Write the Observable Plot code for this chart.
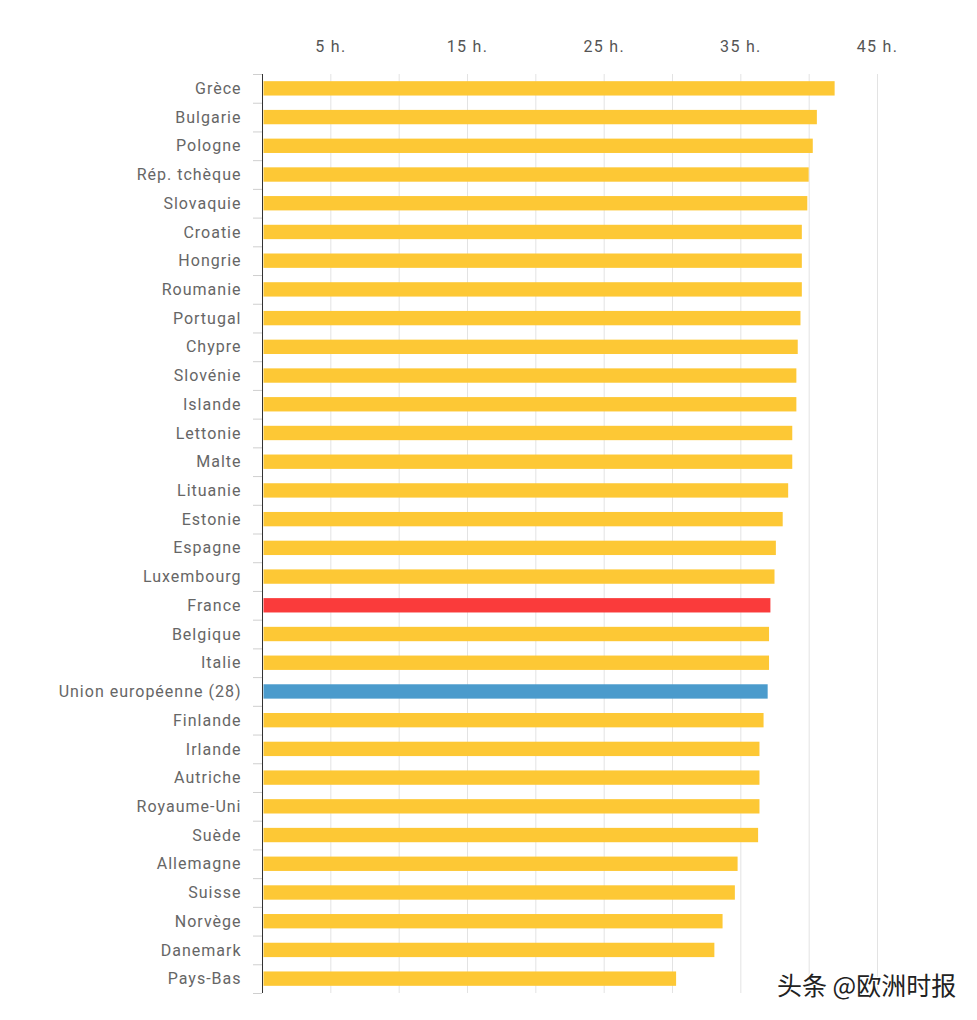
<!DOCTYPE html>
<html>
<head>
<meta charset="utf-8">
<script src="https://cdn.jsdelivr.net/npm/d3@7"></script>
<script src="https://cdn.jsdelivr.net/npm/@observablehq/plot@0.6"></script>
<style>
  html, body { margin: 0; padding: 0; background: #fff; }
  #wrap { position: relative; width: 977px; height: 1020px; }
  #chart svg g[aria-label="y-axis tick label"] text { letter-spacing: 1px; }
  #chart svg g[aria-label="x-axis tick label"] text { letter-spacing: 1.3px; }
  #wm { position: absolute; left: 777px; top: 972px; font-family: "Noto Sans CJK SC", sans-serif; font-size: 25px; line-height: 1; color: #222; text-shadow: 1px 1px 0 #fff, -1px -1px 0 #fff, 1px -1px 0 #fff, -1px 1px 0 #fff; white-space: nowrap; }
</style>
</head>
<body>
<div id="wrap"><div id="chart"></div><div id="wm">头条 @欧洲时报</div></div>
<script>
const countries = ["Grèce","Bulgarie","Pologne","Rép. tchèque","Slovaquie","Croatie","Hongrie","Roumanie","Portugal","Chypre","Slovénie","Islande","Lettonie","Malte","Lituanie","Estonie","Espagne","Luxembourg","France","Belgique","Italie","Union européenne (28)","Finlande","Irlande","Autriche","Royaume-Uni","Suède","Allemagne","Suisse","Norvège","Danemark","Pays-Bas"];
const hours = [41.9,40.6,40.3,40.0,39.9,39.5,39.5,39.5,39.4,39.2,39.1,39.1,38.8,38.8,38.5,38.1,37.6,37.5,37.2,37.1,37.1,37.0,36.7,36.4,36.4,36.4,36.3,34.8,34.6,33.7,33.1,30.3];
const groups = countries.map(c => c === "France" ? "France" : c === "Union européenne (28)" ? "UE" : "Autre");
const tickValues = [5,15,25,35,45];
const gridValues = [5,10,15,20,25,30,35,40,45];

const data = countries.map((c,i) => ({country: c, hours: hours[i], group: groups[i]}));

const W = 977, H = 1020, mT = 74, mB = 27, mL = 262, mR = 100;
const step = (H - mT - mB) / countries.length;

const chart = Plot.plot({
  width: W, height: H,
  marginTop: mT, marginBottom: mB, marginLeft: mL, marginRight: mR,
  style: {fontFamily: "Roboto, sans-serif", background: "#fff"},
  x: {domain: [0,45]},
  y: {domain: countries, paddingInner: 0.5, paddingOuter: 0.25, round: false},
  color: {domain: ["Autre","France","UE"], range: ["#fdc835","#fa3b3b","#4b9bcc"]},
  marks: [
    Plot.gridX(gridValues, {stroke: "#e3e3e3", strokeOpacity: 1}),
    Plot.barX(data, {y: "country", x: "hours", fill: "group", insetLeft: 1.5}),
    Plot.ruleX([0], {stroke: "#333", strokeWidth: 1}),
    Plot.axisX({anchor: "top", ticks: tickValues, tickFormat: d => `${d} h.`, tickSize: 0, tickPadding: 23, fontSize: 16, fill: "#555", label: null}),
    Plot.axisY({tickSize: 0, tickPadding: 21, fontSize: 16, fill: "#666", label: null}),
    Plot.axisY({tickSize: 9, text: null, dy: -step/2, stroke: "#cfcfcf", label: null}),
    Plot.axisY({ticks: ["Pays-Bas"], tickSize: 9, text: null, dy: step/2, stroke: "#cfcfcf", label: null})
  ]
});
document.getElementById("chart").appendChild(chart);
</script>
</body>
</html>
